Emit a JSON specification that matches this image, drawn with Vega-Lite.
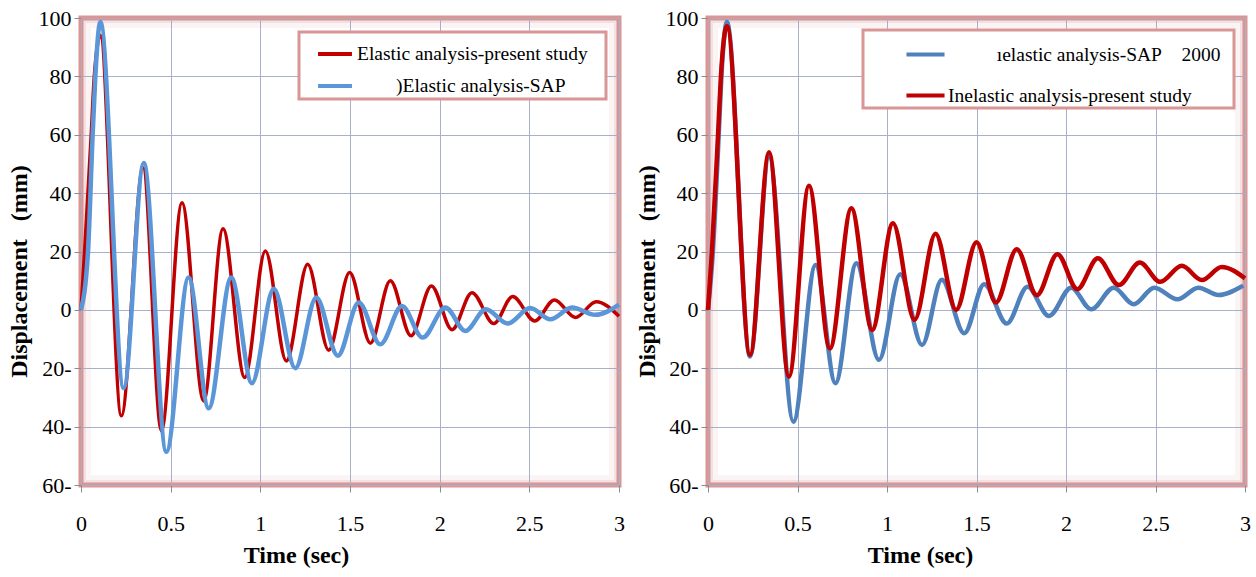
{
  "$schema": "https://vega.github.io/schema/vega-lite/v6.json",
  "background": "#ffffff",
  "padding": {"left": 4, "top": 4, "right": 0, "bottom": 0},
  "datasets": {
    "frame": [{"x0": 0, "x1": 3, "y0": -60, "y1": 100}],
    "elastic": [
      {"t": 0, "d": 0, "k": "r"}, {"t": 0.02, "d": 20, "k": "r"}, {"t": 0.057, "d": 60, "k": "r"}, {"t": 0.074, "d": 80, "k": "r"},
      {"t": 0.108, "d": 94, "k": "r"}, {"t": 0.225, "d": -36.3, "k": "r"}, {"t": 0.346, "d": 48.7, "k": "r"}, {"t": 0.448, "d": -41.4, "k": "r"},
      {"t": 0.563, "d": 36.7, "k": "r"}, {"t": 0.684, "d": -31.2, "k": "r"}, {"t": 0.792, "d": 27.8, "k": "r"}, {"t": 0.913, "d": -23.2, "k": "r"},
      {"t": 1.028, "d": 20.2, "k": "r"}, {"t": 1.145, "d": -17.5, "k": "r"}, {"t": 1.264, "d": 15.6, "k": "r"}, {"t": 1.381, "d": -13.8, "k": "r"},
      {"t": 1.498, "d": 12.8, "k": "r"}, {"t": 1.614, "d": -11.4, "k": "r"}, {"t": 1.725, "d": 10, "k": "r"}, {"t": 1.84, "d": -8.9, "k": "r"},
      {"t": 1.954, "d": 8.2, "k": "r"}, {"t": 2.069, "d": -6.8, "k": "r"}, {"t": 2.18, "d": 5.9, "k": "r"}, {"t": 2.302, "d": -4.7, "k": "r"},
      {"t": 2.407, "d": 4.6, "k": "r"}, {"t": 2.53, "d": -3.8, "k": "r"}, {"t": 2.64, "d": 3.4, "k": "r"}, {"t": 2.757, "d": -2.6, "k": "r"},
      {"t": 2.873, "d": 2.8, "k": "r"}, {"t": 3.0, "d": -2.2, "k": "r"},
      {"t": 0, "d": 0, "k": "b"}, {"t": 0.039, "d": 20, "k": "b"}, {"t": 0.065, "d": 60, "k": "b"}, {"t": 0.08, "d": 80, "k": "b"},
      {"t": 0.108, "d": 98.6, "k": "b"}, {"t": 0.238, "d": -26.8, "k": "b"}, {"t": 0.35, "d": 50.3, "k": "b"}, {"t": 0.476, "d": -48.6, "k": "b"},
      {"t": 0.6, "d": 11.1, "k": "b"}, {"t": 0.712, "d": -33.7, "k": "b"}, {"t": 0.838, "d": 11.1, "k": "b"}, {"t": 0.953, "d": -25.1, "k": "b"},
      {"t": 1.075, "d": 7.2, "k": "b"}, {"t": 1.195, "d": -20, "k": "b"}, {"t": 1.312, "d": 4.2, "k": "b"}, {"t": 1.432, "d": -15.7, "k": "b"},
      {"t": 1.549, "d": 2.5, "k": "b"}, {"t": 1.669, "d": -11.8, "k": "b"}, {"t": 1.79, "d": 1.3, "k": "b"}, {"t": 1.905, "d": -9.5, "k": "b"},
      {"t": 2.032, "d": 0.8, "k": "b"}, {"t": 2.143, "d": -7.2, "k": "b"}, {"t": 2.258, "d": 0.2, "k": "b"}, {"t": 2.379, "d": -4.7, "k": "b"},
      {"t": 2.505, "d": 0.6, "k": "b"}, {"t": 2.617, "d": -3.2, "k": "b"}, {"t": 2.738, "d": 0.8, "k": "b"}, {"t": 2.868, "d": -1.7, "k": "b"},
      {"t": 3.0, "d": 1.8, "k": "b"}
    ],
    "inelastic": [
      {"t": 0, "d": 0, "k": "r"}, {"t": 0.022, "d": 20, "k": "r"}, {"t": 0.056, "d": 60, "k": "r"}, {"t": 0.072, "d": 80, "k": "r"},
      {"t": 0.106, "d": 97.2, "k": "r"}, {"t": 0.235, "d": -15.4, "k": "r"}, {"t": 0.341, "d": 54, "k": "r"}, {"t": 0.452, "d": -22.9, "k": "r"},
      {"t": 0.564, "d": 42.5, "k": "r"}, {"t": 0.681, "d": -13.2, "k": "r"}, {"t": 0.801, "d": 34.8, "k": "r"}, {"t": 0.917, "d": -6.9, "k": "r"},
      {"t": 1.033, "d": 29.7, "k": "r"}, {"t": 1.154, "d": -3.4, "k": "r"}, {"t": 1.271, "d": 26.1, "k": "r"}, {"t": 1.386, "d": 0, "k": "r"},
      {"t": 1.5, "d": 23.2, "k": "r"}, {"t": 1.608, "d": 2.5, "k": "r"}, {"t": 1.725, "d": 20.8, "k": "r"}, {"t": 1.837, "d": 5, "k": "r"},
      {"t": 1.952, "d": 19.1, "k": "r"}, {"t": 2.063, "d": 7.1, "k": "r"}, {"t": 2.178, "d": 17.7, "k": "r"}, {"t": 2.295, "d": 8.5, "k": "r"},
      {"t": 2.412, "d": 16.2, "k": "r"}, {"t": 2.527, "d": 9.6, "k": "r"}, {"t": 2.647, "d": 15.1, "k": "r"}, {"t": 2.759, "d": 10.2, "k": "r"},
      {"t": 2.87, "d": 14.7, "k": "r"}, {"t": 3.0, "d": 10.8, "k": "r"},
      {"t": 0, "d": 0, "k": "b"}, {"t": 0.025, "d": 18, "k": "b"}, {"t": 0.06, "d": 60, "k": "b"}, {"t": 0.075, "d": 80, "k": "b"},
      {"t": 0.106, "d": 98.6, "k": "b"}, {"t": 0.235, "d": -16, "k": "b"}, {"t": 0.341, "d": 52.5, "k": "b"}, {"t": 0.477, "d": -38.3, "k": "b"},
      {"t": 0.601, "d": 15.4, "k": "b"}, {"t": 0.712, "d": -25.1, "k": "b"}, {"t": 0.829, "d": 16, "k": "b"}, {"t": 0.955, "d": -17.1, "k": "b"},
      {"t": 1.074, "d": 12.2, "k": "b"}, {"t": 1.196, "d": -12, "k": "b"}, {"t": 1.306, "d": 10.3, "k": "b"}, {"t": 1.432, "d": -8, "k": "b"},
      {"t": 1.543, "d": 8.8, "k": "b"}, {"t": 1.669, "d": -4.7, "k": "b"}, {"t": 1.785, "d": 7.9, "k": "b"}, {"t": 1.905, "d": -2.1, "k": "b"},
      {"t": 2.029, "d": 7.6, "k": "b"}, {"t": 2.141, "d": 0.2, "k": "b"}, {"t": 2.267, "d": 7.6, "k": "b"}, {"t": 2.378, "d": 1.9, "k": "b"},
      {"t": 2.493, "d": 7.6, "k": "b"}, {"t": 2.623, "d": 3.6, "k": "b"}, {"t": 2.74, "d": 7.6, "k": "b"}, {"t": 2.851, "d": 5.1, "k": "b"},
      {"t": 2.99, "d": 8.3, "k": "b"}
    ]
  },
  "config": {
    "view": {"stroke": "#d99694", "strokeWidth": 5},
    "axis": {
      "domain": false,
      "tickColor": "#8c8c8c",
      "tickSize": 7,
      "gridColor": "#a9b0c9",
      "gridWidth": 1,
      "labelFont": "Liberation Serif",
      "labelFontSize": 22,
      "labelColor": "#000000",
      "labelFlush": false,
      "titleFont": "Liberation Serif",
      "titleFontSize": 24,
      "titleFontWeight": "bold",
      "titleColor": "#000000"
    },
    "legend": {
      "orient": "none",
      "symbolType": "stroke",
      "symbolStrokeWidth": 4,
      "labelFont": "Liberation Serif",
      "labelFontSize": 19.5,
      "labelColor": "#000000",
      "labelLimit": 500,
      "padding": 3,
      "strokeColor": "#d99694",
      "fillColor": "#ffffff",
      "strokeWidth": 3,
      "title": null
    }
  },
  "hconcat": [
    {
      "width": 538,
      "height": 467,
      "layer": [
        {"data": {"name": "frame"}, "mark": {"type": "rect", "fill": null, "stroke": "#d99694", "strokeOpacity": 0.1, "strokeWidth": 20, "clip": true},
          "encoding": {"x": {"field": "x0", "type": "quantitative"}, "x2": {"field": "x1"}, "y": {"field": "y0", "type": "quantitative"}, "y2": {"field": "y1"}}},
        {"data": {"name": "frame"}, "mark": {"type": "rect", "fill": null, "stroke": "#d99694", "strokeOpacity": 0.2, "strokeWidth": 10, "clip": true},
          "encoding": {"x": {"field": "x0", "type": "quantitative"}, "x2": {"field": "x1"}, "y": {"field": "y0", "type": "quantitative"}, "y2": {"field": "y1"}}},
        {"data": {"name": "elastic"}, "transform": [{"filter": "datum.k == 'r'"}], "mark": {"type": "line", "interpolate": "monotone", "strokeWidth": 3.5},
          "encoding": {"x": {"field": "t", "type": "quantitative"}, "y": {"field": "d", "type": "quantitative"}, "color": {"field": "k", "type": "nominal"}}},
        {"data": {"name": "elastic"}, "transform": [{"filter": "datum.k == 'b'"}], "mark": {"type": "line", "interpolate": "monotone", "strokeWidth": 4.5},
          "encoding": {"x": {"field": "t", "type": "quantitative"}, "y": {"field": "d", "type": "quantitative"}, "color": {"field": "k", "type": "nominal"}}}
      ],
      "encoding": {
        "x": {"type": "quantitative", "scale": {"domain": [0, 3], "nice": false},
          "axis": {"values": [0, 0.5, 1, 1.5, 2, 2.5, 3], "format": "~g", "labelPadding": 21, "title": "Time  (sec)", "titleX": 215, "titleY": 70, "titleBaseline": "middle", "titleAlign": "center"}},
        "y": {"type": "quantitative", "scale": {"domain": [-60, 100], "nice": false},
          "axis": {"values": [-60, -40, -20, 0, 20, 40, 60, 80, 100], "labelPadding": 3, "labelExpr": "datum.value < 0 ? (-datum.value) + '-' : datum.label",
            "title": "Displacement \u00a0 (mm)", "titleX": -62, "titleY": 253, "titleBaseline": "middle", "titleAlign": "center"}},
        "color": {"type": "nominal", "scale": {"domain": ["r", "b"], "range": ["#c00000", "#5b96d8"]},
          "legend": {"legendX": 218, "legendY": 14, "symbolSize": 1150, "symbolOffset": 14, "labelOffset": 3, "rowPadding": 3,
            "labelExpr": "datum.label == 'r' ? 'Elastic analysis-present study\u00a0\u00a0\u00a0\u200b' : '\u200b\u00a0\u00a0\u00a0\u00a0\u00a0\u00a0\u00a0\u00a0)Elastic analysis-SAP'"}}
      }
    },
    {
      "width": 537,
      "height": 467,
      "layer": [
        {"data": {"name": "frame"}, "mark": {"type": "rect", "fill": null, "stroke": "#d99694", "strokeOpacity": 0.1, "strokeWidth": 20, "clip": true},
          "encoding": {"x": {"field": "x0", "type": "quantitative"}, "x2": {"field": "x1"}, "y": {"field": "y0", "type": "quantitative"}, "y2": {"field": "y1"}}},
        {"data": {"name": "frame"}, "mark": {"type": "rect", "fill": null, "stroke": "#d99694", "strokeOpacity": 0.2, "strokeWidth": 10, "clip": true},
          "encoding": {"x": {"field": "x0", "type": "quantitative"}, "x2": {"field": "x1"}, "y": {"field": "y0", "type": "quantitative"}, "y2": {"field": "y1"}}},
        {"data": {"name": "inelastic"}, "transform": [{"filter": "datum.k == 'b'"}], "mark": {"type": "line", "interpolate": "monotone", "strokeWidth": 4.5},
          "encoding": {"x": {"field": "t", "type": "quantitative"}, "y": {"field": "d", "type": "quantitative"}, "color": {"field": "k", "type": "nominal"}}},
        {"data": {"name": "inelastic"}, "transform": [{"filter": "datum.k == 'r'"}], "mark": {"type": "line", "interpolate": "monotone", "strokeWidth": 4.5},
          "encoding": {"x": {"field": "t", "type": "quantitative"}, "y": {"field": "d", "type": "quantitative"}, "color": {"field": "k", "type": "nominal"}}}
      ],
      "encoding": {
        "x": {"type": "quantitative", "scale": {"domain": [0, 3], "nice": false},
          "axis": {"values": [0, 0.5, 1, 1.5, 2, 2.5, 3], "format": "~g", "labelPadding": 21, "title": "Time  (sec)", "titleX": 212, "titleY": 70, "titleBaseline": "middle", "titleAlign": "center"}},
        "y": {"type": "quantitative", "scale": {"domain": [-60, 100], "nice": false},
          "axis": {"values": [-60, -40, -20, 0, 20, 40, 60, 80, 100], "labelPadding": 3, "labelExpr": "datum.value < 0 ? (-datum.value) + '-' : datum.label",
            "title": "Displacement \u00a0 (mm)", "titleX": -61, "titleY": 253, "titleBaseline": "middle", "titleAlign": "center"}},
        "color": {"type": "nominal", "scale": {"domain": ["b", "r"], "range": ["#4f81bd", "#c00000"]},
          "legend": {"legendX": 155, "legendY": 12, "symbolSize": 1450, "symbolOffset": 38, "labelOffset": 1, "rowPadding": 10,
            "labelExpr": "datum.label == 'r' ? 'Inelastic analysis-present study' : '\u200b\u00a0\u00a0\u00a0\u00a0\u00a0\u00a0\u00a0\u00a0\u00a0\u00a0ıelastic analysis-SAP\u00a0\u00a0\u00a0\u00a02000\u00a0\u00a0\u200b'"}}
      }
    }
  ],
  "spacing": 89,
  "bounds": "flush",
  "resolve": {"scale": {"color": "independent", "x": "independent", "y": "independent"}, "legend": {"color": "independent"}}
}
